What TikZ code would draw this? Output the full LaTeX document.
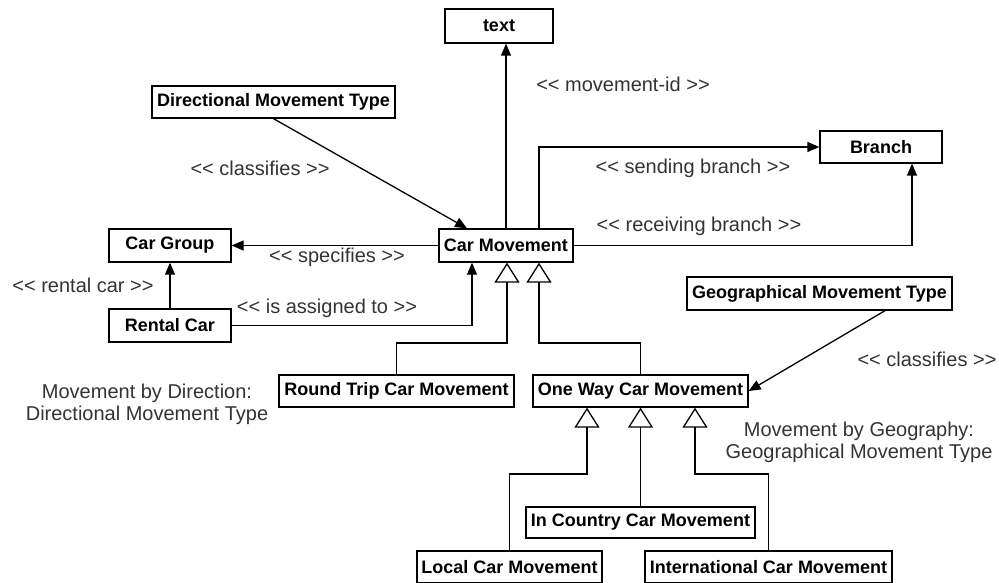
\documentclass[tikz,border=0pt]{standalone}
\usepackage{fontspec}
\setmainfont{Liberation Sans}[Ligatures=TeXOff]
\usetikzlibrary{arrows.meta}
\begin{document}
\begin{tikzpicture}[x=1pt,y=-1pt,
  cls/.style={draw, line width=1.3pt, fill=white, inner sep=0pt,
    font=\fontsize{18}{20}\selectfont\bfseries},
  lbl/.style={inner sep=0pt, text=black!80, font=\fontsize{20}{22}\selectfont, align=center},
  assoc/.style={line width=1.3pt, -{Triangle[length=12pt,width=10pt]}},
  gen/.style={line width=1.3pt, -{Triangle[open,length=20pt,width=25pt,line width=1.3pt]}}
]
\useasboundingbox (0,0) rectangle (999,583);

% classes
\node[cls, minimum width=108pt, minimum height=34pt] (text)    at (499,26)    {text};
\node[cls, minimum width=243pt, minimum height=32pt] (dmt)     at (273.5,102) {Directional Movement Type};
\node[cls, minimum width=122pt, minimum height=33pt] (cargrp)  at (170,245.5) {Car Group};
\node[cls, minimum width=134pt, minimum height=33pt] (carmov)  at (506,245.5) {Car Movement};
\node[cls, minimum width=122pt, minimum height=32pt] (branch)  at (881,147)   {Branch};
\node[cls, minimum width=265pt, minimum height=33pt] (gmt)     at (819.5,293.5) {Geographical Movement Type};
\node[cls, minimum width=122pt, minimum height=33pt] (rental)  at (170,325.5) {Rental Car};
\node[cls, minimum width=235pt, minimum height=32pt] (round)   at (396.5,391) {Round Trip Car Movement};
\node[cls, minimum width=215pt, minimum height=32pt] (oneway)  at (640.5,391) {One Way Car Movement};
\node[cls, minimum width=229pt, minimum height=31pt] (incntry) at (640.5,522.5) {In Country Car Movement};
\node[cls, minimum width=185pt, minimum height=32pt] (local)   at (509.5,567) {Local Car Movement};
\node[cls, minimum width=247pt, minimum height=32pt] (intl)    at (768.5,567) {International Car Movement};

% rows of the generalization branches
\coordinate (genrow1) at (0,343);
\coordinate (genrow2) at (0,474);

% associations
\draw[assoc] (carmov.north) -- (carmov.north |- text.south);
\draw[assoc] (dmt.south) -- ([xshift=-39pt]carmov.north);
\draw[assoc] ([xshift=33pt]carmov.north) |- (branch.west);
\draw[assoc] (carmov.east) -| ([xshift=31pt]branch.south);
\draw[assoc] (carmov.west) -- (cargrp.east);
\draw[assoc] (rental.north) -- (cargrp.south);
\draw[assoc] (rental.east) -| ([xshift=-34pt]carmov.south);
\draw[assoc] ([xshift=65.5pt]gmt.south) -- (oneway.east);

% generalizations
\draw[gen] (round.north) -- (round.north |- genrow1) -| ([xshift=1pt]carmov.south);
\draw[gen] (oneway.north) -- (oneway.north |- genrow1) -| ([xshift=33pt]carmov.south);
\draw[gen] (local.north) -- (local.north |- genrow2) -| ([xshift=-53.5pt]oneway.south);
\draw[gen] (incntry.north) -- (oneway.south);
\draw[gen] (intl.north) -- (intl.north |- genrow2) -| ([xshift=54.5pt]oneway.south);

% role names
\node[lbl] (lmovid)   at (623,84)  {<< movement-id >>};
\node[lbl] (lclassl)  at (260,168) {<< classifies >>};
\node[lbl] (lspec)    at (337,257) {<< specifies >>};
\node[lbl] (lsend)    at (693,168) {<< sending branch >>};
\node[lbl] (lrecv)    at (699,226) {<< receiving branch >>};
\node[lbl] (lrental)  at (83,285)  {<< rental car >>};
\node[lbl] (lassign)  at (327,308) {<< is assigned to >>};
\node[lbl] (lclassr)  at (927,359) {<< classifies >>};
\node[lbl] (ldir)     at (147,404) {Movement by Direction:\\Directional Movement Type};
\node[lbl] (lgeo)     at (859,442.5) {Movement by Geography:\\Geographical Movement Type};
\end{tikzpicture}
\end{document}
